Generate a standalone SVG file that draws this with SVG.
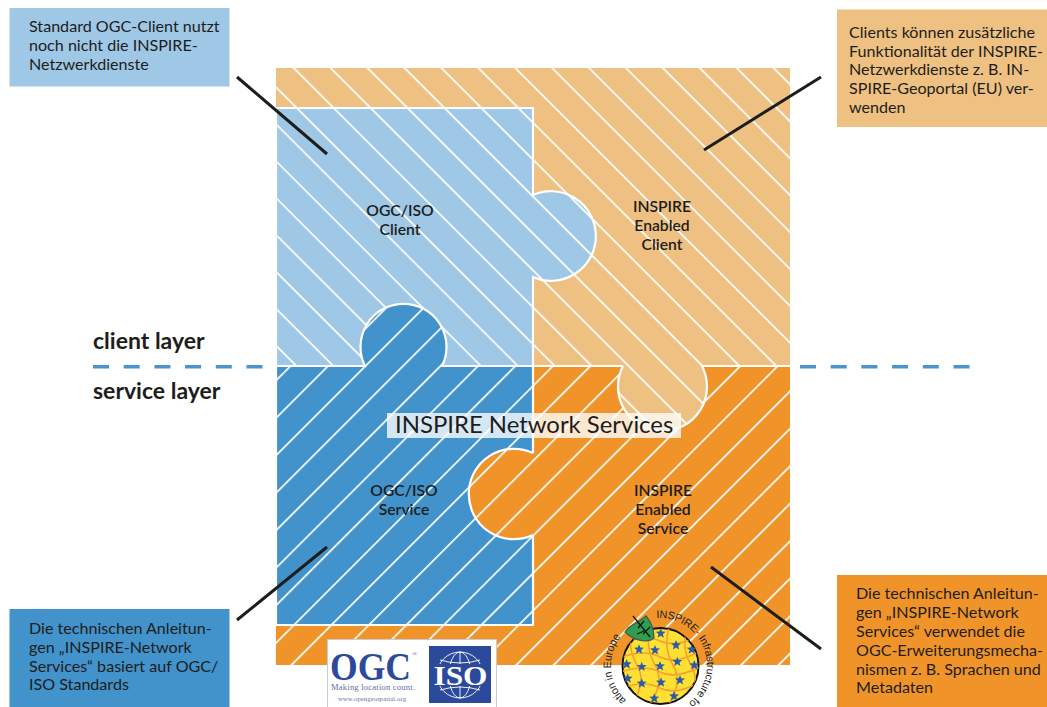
<svg xmlns="http://www.w3.org/2000/svg" width="1047" height="707" viewBox="0 0 1047 707">
<style>
text{font-family:"Lato","Open Sans","Liberation Sans",sans-serif;fill:#1d1d1b}
.note{font-size:16.1px}
.lab{font-size:15.7px;font-weight:600;text-anchor:middle}
.layer{font-size:23px;font-weight:700}
.edge{stroke:#fff;stroke-width:2.2;stroke-linejoin:miter}
.lead{stroke:#1d1d1b;stroke-width:3;fill:none}
.dash{stroke:#4a94ce;stroke-width:3.4;stroke-dasharray:16 14.7;fill:none}
.ring{font-family:"Liberation Sans",sans-serif;font-size:10.8px;letter-spacing:-0.2px}
.serif{font-family:"Liberation Serif",serif;fill:#2c4a9b}
.small{fill:#5a6fa8}
</style>
<defs>
<pattern id="hLB" width="26.1" height="26.1" patternUnits="userSpaceOnUse" patternTransform="translate(295 68) rotate(45)"><rect width="26.1" height="26.1" fill="#9fc7e6"/><rect width="26.1" height="1.7" fill="#fff"/></pattern>
<pattern id="hLO" width="26.1" height="26.1" patternUnits="userSpaceOnUse" patternTransform="translate(295 68) rotate(45)"><rect width="26.1" height="26.1" fill="#eec182"/><rect width="26.1" height="1.7" fill="#fff"/></pattern>
<pattern id="hDB" width="26.5" height="26.5" patternUnits="userSpaceOnUse" patternTransform="translate(515 665) rotate(-45)"><rect width="26.5" height="26.5" fill="#4292cb"/><rect width="26.5" height="1.7" fill="#fff"/></pattern>
<pattern id="hDO" width="26.5" height="26.5" patternUnits="userSpaceOnUse" patternTransform="translate(515 665) rotate(-45)"><rect width="26.5" height="26.5" fill="#f0942a"/><rect width="26.5" height="1.7" fill="#fff"/></pattern>
<polygon id="star" points="0,-5 1.3,-1.7 5,-1.6 2.2,0.8 3.1,4.4 0,2.4 -3.1,4.4 -2.2,0.8 -5,-1.6 -1.3,-1.7" fill="#2a5ca8"/>
<clipPath id="gc"><circle cx="660.5" cy="666" r="38"/></clipPath>
<clipPath id="ic"><rect x="429" y="646" width="62" height="57"/></clipPath>
<path id="ringL" d="M650.3 712.3A47.5 47.5 0 0 1 620.6 636.9"/>
<path id="ringR" d="M656.5 618A47.5 47.5 0 0 1 667 712.3"/>
</defs>

<g id="node-inspire-enabled-service">
<rect x="276" y="366" width="514" height="299" fill="url(#hDO)"/>
</g>
<g id="node-inspire-enabled-client">
<path d="M276 68H790V366H702A44.5 44.5 0 1 1 623 366H276Z" fill="url(#hLO)"/>
<path d="M702 366H790M623 366H276" class="edge" fill="none"/>
<path d="M702 366A44.5 44.5 0 1 1 623 366" class="edge" fill="none"/>
</g>
<g id="node-ogc-iso-client">
<path d="M276 108H533V195A44.8 44.8 0 1 1 533 277V366H276Z" fill="url(#hLB)" class="edge"/>
</g>
<g id="node-ogc-iso-service">
<path d="M276 366H365A43 43 0 1 1 442 366H533V625H276Z" fill="url(#hDB)" class="edge"/>
</g>
<g id="node-inspire-tab">
<path d="M535 453H533A45.2 45.2 0 1 0 533 535H535Z" fill="url(#hDO)"/>
<path d="M533 453A45.2 45.2 0 1 0 533 535" class="edge" fill="none"/>
</g>
<rect x="276" y="665" width="514" height="3" fill="#fff"/>

<g id="labels">
<g id="label-ogc-client"><text class="lab" x="400" y="216">OGC/ISO</text><text class="lab" x="400" y="235">Client</text></g>
<g id="label-inspire-client"><text class="lab" x="662" y="212">INSPIRE</text><text class="lab" x="662" y="231">Enabled</text><text class="lab" x="662" y="250">Client</text></g>
<g id="label-ogc-service"><text class="lab" x="404" y="496">OGC/ISO</text><text class="lab" x="404" y="515">Service</text></g>
<g id="label-inspire-service"><text class="lab" x="663" y="496">INSPIRE</text><text class="lab" x="663" y="515">Enabled</text><text class="lab" x="663" y="534">Service</text></g>
</g>

<g id="node-network-services">
<rect x="387" y="413" width="294" height="25" fill="#fff" fill-opacity="0.78"/>
<text x="395" y="433" font-size="23.9">INSPIRE Network Services</text>
</g>

<g id="connectors">
<path class="lead" d="M237 77L327 154"/>
<path class="lead" d="M821 77L704 150"/>
<path class="lead" d="M237 620L327 547"/>
<path class="lead" d="M711 567L821 649"/>
<path class="dash" d="M93 366.7H276"/>
<path class="dash" d="M800 366.7H970"/>
</g>

<g id="layers">
<text class="layer" x="93" y="349">client layer</text>
<text class="layer" x="93" y="399">service layer</text>
</g>

<g id="note-tl">
<rect x="9.5" y="8" width="220" height="78.5" fill="#9fc7e6"/>
<text class="note" x="29" y="32">Standard OGC-Client nutzt</text>
<text class="note" x="29" y="51">noch nicht die INSPIRE-</text>
<text class="note" x="29" y="69.500">Netzwerkdienste</text>
</g>
<g id="note-tr">
<rect x="837" y="9.5" width="210" height="117.5" fill="#eec182"/>
<text class="note" x="849" y="37.500">Clients können zusätzliche</text>
<text class="note" x="849" y="56.500">Funktionalität der INSPIRE-</text>
<text class="note" x="849" y="75">Netzwerkdienste z. B. IN-</text>
<text class="note" x="849" y="94">SPIRE-Geoportal (EU) ver-</text>
<text class="note" x="849" y="112.500">wenden</text>
</g>
<g id="note-bl">
<rect x="9.5" y="609" width="220" height="98" fill="#4292cb"/>
<text class="note" x="29" y="634">Die technischen Anleitun-</text>
<text class="note" x="29" y="652.500">gen „INSPIRE-Network</text>
<text class="note" x="29" y="671.500">Services“ basiert auf OGC/</text>
<text class="note" x="29" y="690">ISO Standards</text>
</g>
<g id="note-br">
<rect x="837" y="575" width="210" height="132" fill="#f0942a"/>
<text class="note" x="856" y="599">Die technischen Anleitun-</text>
<text class="note" x="856" y="618">gen „INSPIRE-Network</text>
<text class="note" x="856" y="637">Services“ verwendet die</text>
<text class="note" x="856" y="656">OGC-Erweiterungsmecha-</text>
<text class="note" x="856" y="675">nismen z. B. Sprachen und</text>
<text class="note" x="856" y="693">Metadaten</text>
</g>

<g id="logo-ogc-iso">
<rect x="327.5" y="639.5" width="169" height="70" fill="#fff" stroke="#c5cbd8"/>
<text class="serif" x="330" y="680" font-size="39" font-weight="700" textLength="81" lengthAdjust="spacingAndGlyphs">OGC</text>
<text class="serif small" x="412" y="656" font-size="7">®</text>
<text class="serif small" x="331" y="690" font-size="8.5" textLength="84">Making location count.</text>
<text class="serif small" x="338" y="700.500" font-size="6.5" textLength="68">www.opengeospatial.org</text>
<rect x="429" y="646" width="62" height="57" fill="#2c4a9b"/>
<g clip-path="url(#ic)" fill="none" stroke="#fff" stroke-width="0.9">
<circle cx="460" cy="675" r="23"/><ellipse cx="460" cy="675" rx="11" ry="23"/><path d="M460 652V698M440 660Q460 666 480 660M440 690Q460 684 480 690"/>
</g>
<rect x="433" y="664" width="55" height="22" fill="#2c4a9b"/>
<text x="460.500" y="685" font-size="28" font-weight="700" text-anchor="middle" textLength="54" lengthAdjust="spacingAndGlyphs" style="font-family:'Liberation Serif',serif;fill:#fff">ISO</text>
</g>

<g id="logo-inspire">
<circle cx="660.500" cy="666" r="38" fill="#ffe033" stroke="#111" stroke-width="2"/>
<g clip-path="url(#gc)" fill="none" stroke="#f5a030" stroke-width="1.6">
<path d="M622 642Q645 634 660 641T700 636M622 657Q645 649 660 657T700 651M620 672Q645 664 660 672T702 666M622 688Q645 680 660 688T700 682"/>
<path d="M632 628Q627 648 637 665T632 704M650 628Q645 648 655 665T650 704M669 628Q663 648 673 665T669 704M687 628Q681 648 691 665T687 704"/>
</g>
<g id="stars">
<use href="#star" x="660.700" y="633.300"/><use href="#star" x="639" y="649.300"/><use href="#star" x="655" y="650"/><use href="#star" x="676" y="645"/><use href="#star" x="691.700" y="649.300"/>
<use href="#star" x="641.700" y="666.700"/><use href="#star" x="660" y="666"/><use href="#star" x="677.300" y="661.700"/><use href="#star" x="694.300" y="665"/><use href="#star" x="626.700" y="664"/>
<use href="#star" x="627.700" y="678.300"/><use href="#star" x="641.700" y="683.300"/><use href="#star" x="661" y="682.300"/><use href="#star" x="680" y="680"/><use href="#star" x="654.300" y="698.300"/><use href="#star" x="674" y="696"/>
</g>
<path d="M625 632C630 624 640 622 646 616C651 622 654 630 654 638C650 642 636 643 625 632Z" fill="#2f9e50" stroke="#4a5a4e" stroke-width="1.2"/>
<path d="M633 616L650 637M638 628L644 621M643 634L650 627M637 634L644 631" stroke="#111" stroke-width="1.2" fill="none"/>
<text class="ring"><textPath href="#ringL" startOffset="100%" text-anchor="end">ation in Europe</textPath></text>
<text class="ring"><textPath href="#ringR">INSPIRE- Infrastructure fo</textPath></text>
</g>
</svg>
